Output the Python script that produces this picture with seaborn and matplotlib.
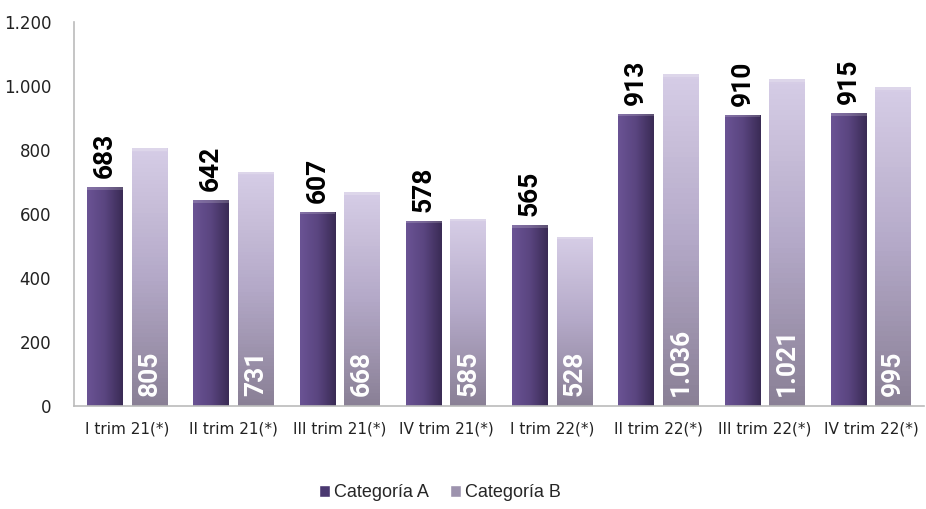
import numpy as np
import pandas as pd
import seaborn as sns
import matplotlib.pyplot as plt
from matplotlib.patches import Patch
from matplotlib.colors import LinearSegmentedColormap

periodos = ["I trim 21(*)", "II trim 21(*)", "III trim 21(*)", "IV trim 21(*)",
            "I trim 22(*)", "II trim 22(*)", "III trim 22(*)", "IV trim 22(*)"]
cat_a = [683, 642, 607, 578, 565, 913, 910, 915]
cat_b = [805, 731, 668, 585, 528, 1036, 1021, 995]
series = ["Categoría A", "Categoría B"]
y_ticks = [0, 200, 400, 600, 800, 1000, 1200]

frame = pd.DataFrame({
    "periodo": periodos * 2,
    "serie": [series[0]] * len(periodos) + [series[1]] * len(periodos),
    "valor": cat_a + cat_b,
})

def fmt(v):
    return f"{v:,}".replace(",", ".")

sns.set_style("white")
plt.rcParams["font.family"] = ["DejaVu Sans"]

fig = plt.figure(figsize=(9.26, 5.09), dpi=100)
ax = fig.add_axes([0.080, 0.2024, 0.918, 0.755])

colors = {"Categoría A": "#5a4580", "Categoría B": "#c4bad8"}
sns.barplot(data=frame, x="periodo", y="valor", hue="serie", palette=colors,
            width=0.84, gap=0.2, edgecolor="none", legend=False, ax=ax)

ax.set_ylim(0, 1200)
ax.set_xlim(-0.5, 7.5)
ax.set_yticks(y_ticks)
ax.set_yticklabels([fmt(t) for t in y_ticks], fontsize=12, color="#222222")
ax.tick_params(axis="x", labelsize=11, colors="#222222", pad=8)
ax.tick_params(axis="y", pad=13)
ax.set_xlabel("")
ax.set_ylabel("")
for s in ["top", "right"]:
    ax.spines[s].set_visible(False)
for s in ["left", "bottom"]:
    ax.spines[s].set_color("#bbbbbb")
    ax.spines[s].set_linewidth(1.2)

# gradient fills to mimic the bevelled bars
cmap_a = LinearSegmentedColormap.from_list("a", ["#6a5394", "#5a4580", "#3a2b55"])
cmap_b = LinearSegmentedColormap.from_list("b", ["#8a8096", "#b4a9c8", "#d6cde6"])
n = len(periodos)
for i, bar in enumerate(ax.patches[: 2 * n]):
    x0, y0 = bar.get_x(), bar.get_y()
    w, h = bar.get_width(), bar.get_height()
    if i < n:
        grad = np.linspace(0, 1, 64).reshape(1, -1)
        cm = cmap_a
    else:
        grad = np.linspace(0, 1, 64).reshape(-1, 1)
        cm = cmap_b
    im = ax.imshow(grad, cmap=cm, extent=(x0, x0 + w, y0, y0 + h),
                   origin="lower", aspect="auto", zorder=bar.get_zorder())
    im.set_clip_path(bar)
    ax.add_patch(plt.Rectangle((x0, y0 + h - 8), w, 8, color="#ffffff",
                               alpha=0.18, lw=0, zorder=bar.get_zorder() + 0.1))
ax.set_xlim(-0.5, 7.5)
ax.set_ylim(0, 1200)

bars_a = ax.containers[0]
bars_b = ax.containers[1]
lbl = dict(rotation=90, ha="center", va="bottom", fontsize=19, fontweight="bold",
           family="Roboto", zorder=5)
for bar, v in zip(bars_a, cat_a):
    ax.text(bar.get_x() + bar.get_width() / 2, v + 28, fmt(v), color="black", **lbl)
for bar, v in zip(bars_b, cat_b):
    ax.text(bar.get_x() + bar.get_width() / 2, 32, fmt(v), color="white", **lbl)

handles = [Patch(facecolor="#4a3870", label=series[0]),
           Patch(facecolor="#9d93ae", label=series[1])]
fig.legend(handles=handles, loc="center", bbox_to_anchor=(0.475, 0.032), ncol=2,
           frameon=False, handlelength=0.6, handleheight=0.6, handletextpad=0.2,
           columnspacing=1.2, prop={"family": "Liberation Sans", "size": 13})

fig.savefig("out.png", dpi=100)
